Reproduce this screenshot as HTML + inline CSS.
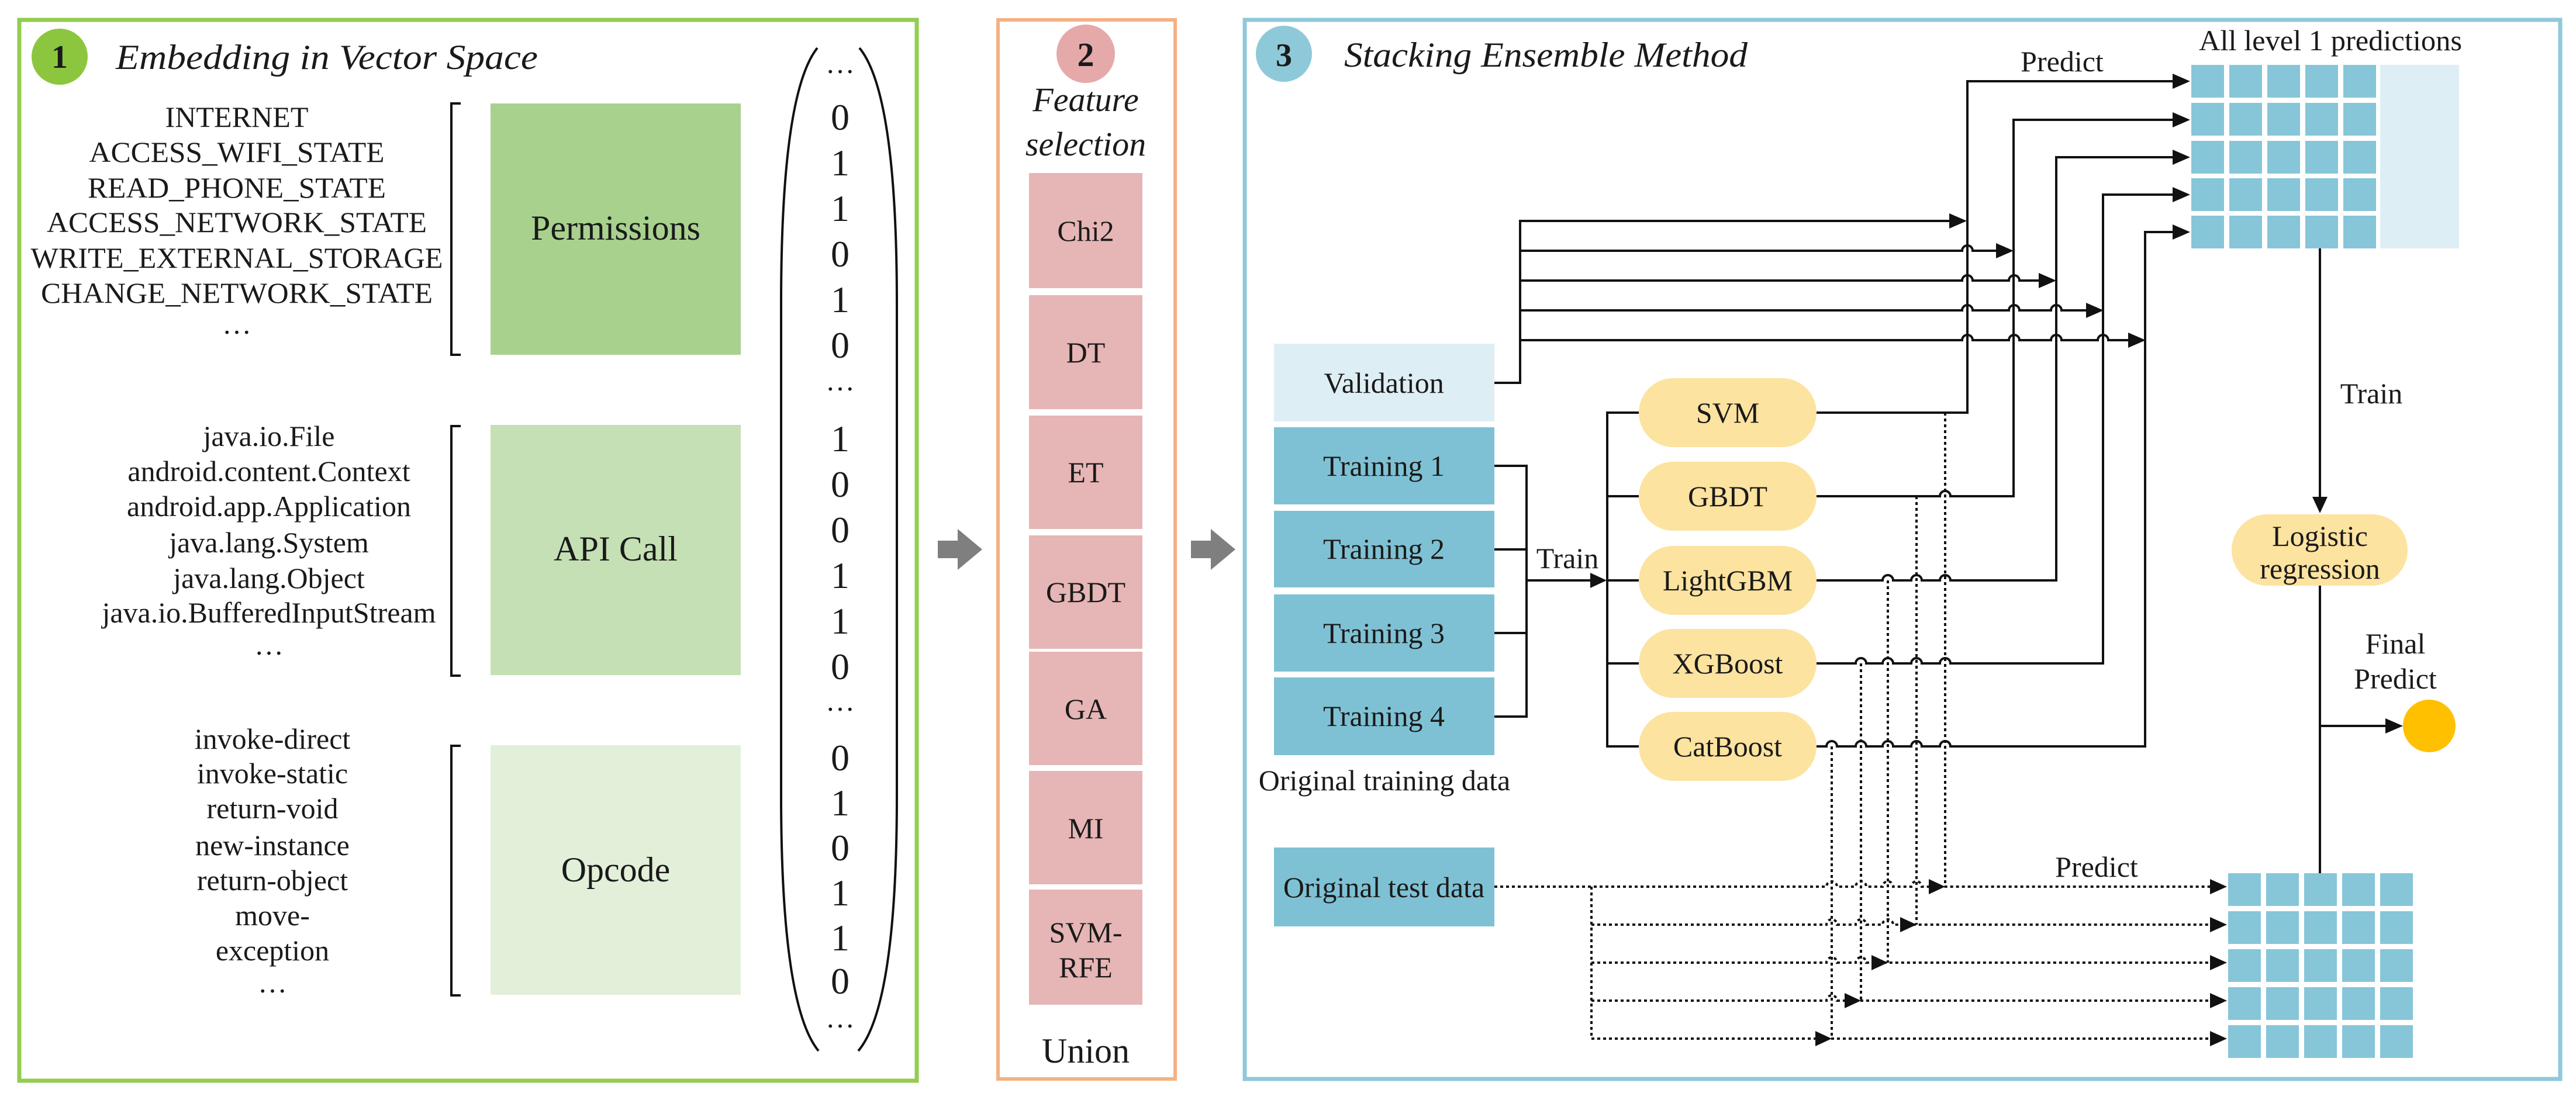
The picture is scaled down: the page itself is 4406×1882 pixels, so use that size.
<!DOCTYPE html>
<html><head><meta charset="utf-8"><style>
html,body{margin:0;padding:0;background:#fff;}
svg{display:block;font-family:"Liberation Serif","DejaVu Serif","Noto Serif CJK SC",serif;}
svg text{font-family:"Liberation Serif","DejaVu Serif","Noto Serif CJK SC",serif !important;fill:#1a1a1a;}
</style></head><body>
<svg width="4406" height="1882" viewBox="0 0 4406 1882" xmlns="http://www.w3.org/2000/svg" font-family="Liberation Serif, DejaVu Serif, serif">
<style>
.ln{stroke:#111;stroke-width:4;fill:none;}
.dt{stroke:#111;stroke-width:4;fill:none;stroke-dasharray:5 5;}
.t50{font-size:50px;text-anchor:middle;}
.dg{font-size:64px;text-anchor:middle;}
</style>

<rect x="33" y="34" width="1535" height="1815" fill="#fff" stroke="#92cd50" stroke-width="7"/>
<circle cx="102" cy="97" r="48" fill="#8cc63f"/>
<text x="102" y="116" font-size="56" font-weight="bold" text-anchor="middle">1</text>
<text x="198" y="118" font-size="60" font-style="italic" textLength="722" lengthAdjust="spacingAndGlyphs">Embedding in Vector Space</text>

<g class="t50">
<text x="405" y="217" textLength="245" lengthAdjust="spacingAndGlyphs">INTERNET</text>
<text x="405" y="277" textLength="505" lengthAdjust="spacingAndGlyphs">ACCESS_WIFI_STATE</text>
<text x="405" y="338" textLength="510" lengthAdjust="spacingAndGlyphs">READ_PHONE_STATE</text>
<text x="405" y="397" textLength="650" lengthAdjust="spacingAndGlyphs">ACCESS_NETWORK_STATE</text>
<text x="405" y="458" textLength="705" lengthAdjust="spacingAndGlyphs">WRITE_EXTERNAL_STORAGE</text>
<text x="405" y="518" textLength="670" lengthAdjust="spacingAndGlyphs">CHANGE_NETWORK_STATE</text>
<text x="405" y="571">…</text>
<text x="460" y="763">java.io.File</text>
<text x="460" y="823">android.content.Context</text>
<text x="460" y="883">android.app.Application</text>
<text x="460" y="945">java.lang.System</text>
<text x="460" y="1006">java.lang.Object</text>
<text x="460" y="1065">java.io.BufferedInputStream</text>
<text x="460" y="1120">…</text>
<text x="466" y="1281">invoke-direct</text>
<text x="466" y="1340">invoke-static</text>
<text x="466" y="1400">return-void</text>
<text x="466" y="1463">new-instance</text>
<text x="466" y="1523">return-object</text>
<text x="466" y="1583">move-</text>
<text x="466" y="1643">exception</text>
<text x="466" y="1698">…</text>
</g>

<path class="ln" d="M788 177 H772 V607 H788"/>
<path class="ln" d="M788 729 H772 V1156 H788"/>
<path class="ln" d="M788 1276 H772 V1703 H788"/>

<rect x="839" y="177" width="428" height="430" fill="#a9d18e"/>
<text x="1053" y="410" font-size="60" text-anchor="middle">Permissions</text>
<rect x="839" y="727" width="428" height="428" fill="#c5e0b4"/>
<text x="1053" y="959" font-size="60" text-anchor="middle">API Call</text>
<rect x="839" y="1275" width="428" height="427" fill="#e2f0d9"/>
<text x="1053" y="1508" font-size="60" text-anchor="middle">Opcode</text>

<path class="ln" d="M1398 82 Q1336 160 1336 520 V1360 Q1336 1720 1400 1798"/>
<path class="ln" d="M1470 82 Q1534 160 1534 520 V1360 Q1534 1720 1468 1798"/>
<g class="dg">
<text x="1437" y="125" font-size="50">…</text>
<text x="1437" y="222">0</text><text x="1437" y="300">1</text><text x="1437" y="378">1</text>
<text x="1437" y="456">0</text><text x="1437" y="534">1</text><text x="1437" y="612">0</text>
<text x="1437" y="668" font-size="50">…</text>
<text x="1437" y="772">1</text><text x="1437" y="850">0</text><text x="1437" y="928">0</text>
<text x="1437" y="1006">1</text><text x="1437" y="1084">1</text><text x="1437" y="1162">0</text>
<text x="1437" y="1216" font-size="50">…</text>
<text x="1437" y="1318">0</text><text x="1437" y="1395">1</text><text x="1437" y="1472">0</text>
<text x="1437" y="1549">1</text><text x="1437" y="1626">1</text><text x="1437" y="1700">0</text>
<text x="1437" y="1758" font-size="50">…</text>
</g>

<path d="M1604 925 H1638 V905 L1680 940 L1638 975 V955 H1604 Z" fill="#7f7f7f"/>
<path d="M2037 925 H2071 V905 L2113 940 L2071 975 V955 H2037 Z" fill="#7f7f7f"/>

<rect x="1707" y="34" width="303" height="1812" fill="#fff" stroke="#f4b183" stroke-width="6"/>
<circle cx="1857" cy="92" r="50" fill="#e6a9a9"/>
<text x="1857" y="113" font-size="58" font-weight="bold" text-anchor="middle">2</text>
<text x="1857" y="190" font-size="58" font-style="italic" text-anchor="middle">Feature</text>
<text x="1857" y="266" font-size="58" font-style="italic" text-anchor="middle">selection</text>
<g fill="#e6b5b5">
<rect x="1760" y="296" width="194" height="197"/>
<rect x="1760" y="505" width="194" height="195"/>
<rect x="1760" y="711" width="194" height="194"/>
<rect x="1760" y="916" width="194" height="194"/>
<rect x="1760" y="1115" width="194" height="194"/>
<rect x="1760" y="1319" width="194" height="194"/>
<rect x="1760" y="1522" width="194" height="197"/>
</g>
<g class="t50">
<text x="1857" y="412">Chi2</text>
<text x="1857" y="620">DT</text>
<text x="1857" y="825">ET</text>
<text x="1857" y="1030">GBDT</text>
<text x="1857" y="1230">GA</text>
<text x="1857" y="1434">MI</text>
<text x="1857" y="1612">SVM-</text>
<text x="1857" y="1672">RFE</text>
</g>
<text x="1857" y="1818" font-size="60" text-anchor="middle">Union</text>

<rect x="2129" y="34" width="2250" height="1812" fill="#fff" stroke="#90c9d9" stroke-width="7"/>
<circle cx="2196" cy="92" r="48" fill="#8ec9d9"/>
<text x="2196" y="113" font-size="56" font-weight="bold" text-anchor="middle">3</text>
<text x="2299" y="114" font-size="60" font-style="italic" textLength="690" lengthAdjust="spacingAndGlyphs">Stacking Ensemble Method</text>

<rect x="2179" y="588" width="377" height="133" fill="#deeef5"/>
<g fill="#7fc1d4">
<rect x="2179" y="731" width="377" height="132"/>
<rect x="2179" y="874" width="377" height="131"/>
<rect x="2179" y="1017" width="377" height="132"/>
<rect x="2179" y="1159" width="377" height="133"/>
<rect x="2179" y="1450" width="377" height="135"/>
</g>
<g class="t50">
<text x="2367" y="672">Validation</text>
<text x="2367" y="814">Training 1</text>
<text x="2367" y="956">Training 2</text>
<text x="2367" y="1100">Training 3</text>
<text x="2367" y="1242">Training 4</text>
<text x="2367" y="1535">Original test data</text>
<text x="2368" y="1352">Original training data</text>
</g>

<g fill="#fde3a0">
<rect x="2803" y="647" width="304" height="118" rx="59"/>
<rect x="2803" y="790" width="304" height="118" rx="59"/>
<rect x="2803" y="934" width="304" height="118" rx="59"/>
<rect x="2803" y="1076" width="304" height="118" rx="59"/>
<rect x="2803" y="1218" width="304" height="118" rx="59"/>
<rect x="3817" y="880" width="301" height="122" rx="61"/>
</g>
<g class="t50">
<text x="2955" y="723">SVM</text>
<text x="2955" y="866">GBDT</text>
<text x="2955" y="1010">LightGBM</text>
<text x="2955" y="1152">XGBoost</text>
<text x="2955" y="1294">CatBoost</text>
<text x="3968" y="934">Logistic</text>
<text x="3968" y="990">regression</text>
<text x="2681" y="972">Train</text>
<text x="3527" y="122">Predict</text>
<text x="4056" y="690">Train</text>
<text x="4097" y="1118">Final</text>
<text x="4097" y="1178">Predict</text>
<text x="3586" y="1500">Predict</text>
<text x="3986" y="86" textLength="450" lengthAdjust="spacingAndGlyphs">All level 1 predictions</text>
</g>

<path class="ln" d="M2556 797 H2611 V1226 H2556 M2556 940 H2611 M2556 1083 H2611 M2611 993 H2720"/>
<path d="M2720 980 L2748 993 L2720 1006 Z" fill="#111"/>
<path class="ln" d="M2803 706 H2749 V1277 H2803 M2749 849 H2803 M2749 993 H2803 M2749 1135 H2803"/>

<rect x="4071" y="111" width="135" height="314" fill="#deeef5"/>
<g fill="#86c6d8">
<rect x="3748" y="111" width="56" height="56"/><rect x="3813" y="111" width="56" height="56"/><rect x="3878" y="111" width="56" height="56"/><rect x="3943" y="111" width="56" height="56"/><rect x="4008" y="111" width="56" height="56"/>
<rect x="3748" y="176" width="56" height="56"/><rect x="3813" y="176" width="56" height="56"/><rect x="3878" y="176" width="56" height="56"/><rect x="3943" y="176" width="56" height="56"/><rect x="4008" y="176" width="56" height="56"/>
<rect x="3748" y="241" width="56" height="56"/><rect x="3813" y="241" width="56" height="56"/><rect x="3878" y="241" width="56" height="56"/><rect x="3943" y="241" width="56" height="56"/><rect x="4008" y="241" width="56" height="56"/>
<rect x="3748" y="305" width="56" height="56"/><rect x="3813" y="305" width="56" height="56"/><rect x="3878" y="305" width="56" height="56"/><rect x="3943" y="305" width="56" height="56"/><rect x="4008" y="305" width="56" height="56"/>
<rect x="3748" y="369" width="56" height="56"/><rect x="3813" y="369" width="56" height="56"/><rect x="3878" y="369" width="56" height="56"/><rect x="3943" y="369" width="56" height="56"/><rect x="4008" y="369" width="56" height="56"/>
</g>
<g fill="#86c6d8">
<rect x="3811" y="1494" width="56" height="56"/><rect x="3876" y="1494" width="56" height="56"/><rect x="3941" y="1494" width="56" height="56"/><rect x="4006" y="1494" width="56" height="56"/><rect x="4071" y="1494" width="56" height="56"/>
<rect x="3811" y="1559" width="56" height="56"/><rect x="3876" y="1559" width="56" height="56"/><rect x="3941" y="1559" width="56" height="56"/><rect x="4006" y="1559" width="56" height="56"/><rect x="4071" y="1559" width="56" height="56"/>
<rect x="3811" y="1624" width="56" height="56"/><rect x="3876" y="1624" width="56" height="56"/><rect x="3941" y="1624" width="56" height="56"/><rect x="4006" y="1624" width="56" height="56"/><rect x="4071" y="1624" width="56" height="56"/>
<rect x="3811" y="1689" width="56" height="56"/><rect x="3876" y="1689" width="56" height="56"/><rect x="3941" y="1689" width="56" height="56"/><rect x="4006" y="1689" width="56" height="56"/><rect x="4071" y="1689" width="56" height="56"/>
<rect x="3811" y="1754" width="56" height="56"/><rect x="3876" y="1754" width="56" height="56"/><rect x="3941" y="1754" width="56" height="56"/><rect x="4006" y="1754" width="56" height="56"/><rect x="4071" y="1754" width="56" height="56"/>
</g>

<path class="ln" d="M2556 655 H2600 V378 H3336"/>
<path class="ln" d="M2600 429 H3356 a9 9 0 0 1 18 0 H3416"/>
<path class="ln" d="M2600 480 H3356 a9 9 0 0 1 18 0 H3436 a9 9 0 0 1 18 0 H3489"/>
<path class="ln" d="M2600 531 H3356 a9 9 0 0 1 18 0 H3436 a9 9 0 0 1 18 0 H3508 a9 9 0 0 1 18 0 H3570"/>
<path class="ln" d="M2600 582 H3356 a9 9 0 0 1 18 0 H3436 a9 9 0 0 1 18 0 H3508 a9 9 0 0 1 18 0 H3588 a9 9 0 0 1 18 0 H3642"/>
<g fill="#111">
<path d="M3334 365 L3364 378 L3334 391 Z"/>
<path d="M3414 416 L3444 429 L3414 442 Z"/>
<path d="M3487 467 L3517 480 L3487 493 Z"/>
<path d="M3568 518 L3598 531 L3568 544 Z"/>
<path d="M3640 569 L3670 582 L3640 595 Z"/>
</g>

<path class="ln" d="M3107 706 H3365 V139 H3718"/>
<path class="ln" d="M3107 849 H3318 a9 9 0 0 1 18 0 H3444 V205 H3718"/>
<path class="ln" d="M3107 993 H3220 a9 9 0 0 1 18 0 H3269 a9 9 0 0 1 18 0 H3318 a9 9 0 0 1 18 0 H3517 V269 H3718"/>
<path class="ln" d="M3107 1135 H3174 a9 9 0 0 1 18 0 H3220 a9 9 0 0 1 18 0 H3269 a9 9 0 0 1 18 0 H3318 a9 9 0 0 1 18 0 H3597 V333 H3718"/>
<path class="ln" d="M3107 1277 H3124 a9 9 0 0 1 18 0 H3174 a9 9 0 0 1 18 0 H3220 a9 9 0 0 1 18 0 H3269 a9 9 0 0 1 18 0 H3318 a9 9 0 0 1 18 0 H3669 V397 H3718"/>
<g fill="#111">
<path d="M3716 126 L3746 139 L3716 152 Z"/>
<path d="M3716 192 L3746 205 L3716 218 Z"/>
<path d="M3716 256 L3746 269 L3716 282 Z"/>
<path d="M3716 320 L3746 333 L3716 346 Z"/>
<path d="M3716 384 L3746 397 L3716 410 Z"/>
</g>

<path class="dt" d="M3327 706 V1517 M3278 849 V1582 M3229 993 V1647 M3183 1135 V1712 M3133 1277 V1777"/>

<path class="dt" d="M2556 1517 H3124 a9 9 0 0 1 18 0 H3174 a9 9 0 0 1 18 0 H3220 a9 9 0 0 1 18 0 H3269 a9 9 0 0 1 18 0 H3780"/>
<path class="dt" d="M2722 1517 V1777"/>
<path class="dt" d="M2722 1582 H3124 a9 9 0 0 1 18 0 H3174 a9 9 0 0 1 18 0 H3220 a9 9 0 0 1 18 0 H3780"/>
<path class="dt" d="M2722 1647 H3124 a9 9 0 0 1 18 0 H3174 a9 9 0 0 1 18 0 H3780"/>
<path class="dt" d="M2722 1712 H3124 a9 9 0 0 1 18 0 H3780"/>
<path class="dt" d="M2722 1777 H3780"/>
<g fill="#111">
<path d="M3299 1504 L3327 1517 L3299 1530 Z"/>
<path d="M3250 1569 L3278 1582 L3250 1595 Z"/>
<path d="M3201 1634 L3229 1647 L3201 1660 Z"/>
<path d="M3155 1699 L3183 1712 L3155 1725 Z"/>
<path d="M3105 1764 L3133 1777 L3105 1790 Z"/>
<path d="M3780 1504 L3809 1517 L3780 1530 Z"/>
<path d="M3780 1569 L3809 1582 L3780 1595 Z"/>
<path d="M3780 1634 L3809 1647 L3780 1660 Z"/>
<path d="M3780 1699 L3809 1712 L3780 1725 Z"/>
<path d="M3780 1764 L3809 1777 L3780 1790 Z"/>
</g>

<path class="ln" d="M3968 425 V852"/>
<path d="M3955 850 L3968 878 L3981 850 Z" fill="#111"/>
<path class="ln" d="M3968 1002 V1494 M3968 1242 H4082"/>
<path d="M4080 1229 L4110 1242 L4080 1255 Z" fill="#111"/>
<circle cx="4155" cy="1242" r="45" fill="#ffc000"/>
</svg>
</body></html>
